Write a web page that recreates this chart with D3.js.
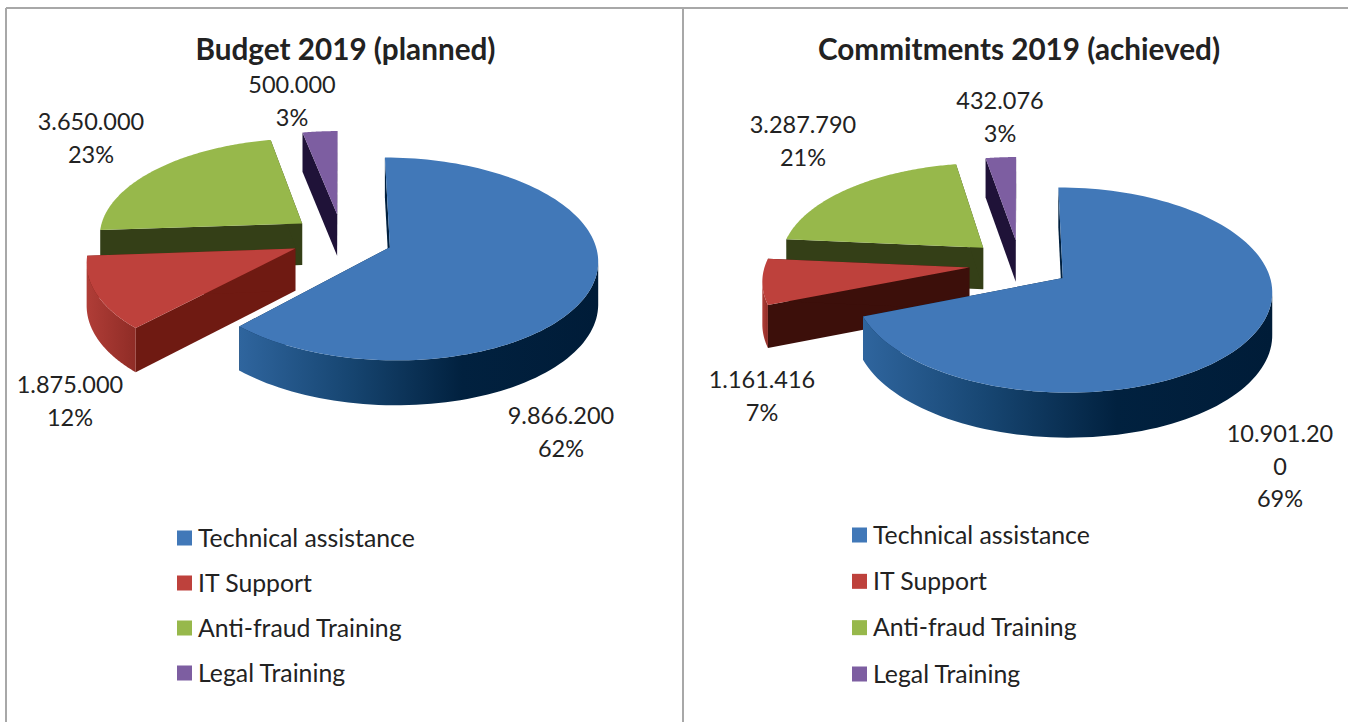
<!DOCTYPE html>
<html>
<head>
<meta charset="utf-8">
<script src="https://cdn.jsdelivr.net/npm/d3@7"></script>
<style>
  html, body { margin: 0; background: #fff; overflow: hidden; }
  svg { display: block; }
  text { font-family: Lato, "Open Sans", sans-serif; fill: #222; }
</style>
</head>
<body>
<svg id="chart" width="1348" height="722"></svg>
<script>
const categories = ["Technical assistance", "IT Support", "Anti-fraud Training", "Legal Training"];
const budgetValues = [9866200, 1875000, 3650000, 500000];
const commitmentValues = [10901200, 1161416, 3287790, 432076];

const topColors = ["#4178b8", "#be413c", "#97b84b", "#7d5ea1"];
const budgetWalls = ["#00203f", "#6f1a12", "#343f17", "#1f1238"];
const commitmentWalls = ["#00203f", "#3c0f0a", "#343f17", "#1f1238"];

// centre of the first label line for each slice
const budgetLabelX = [561, 70, 91, 292];
const budgetLabelY = [416, 385, 122, 85];
const commitmentLabelX = [1280, 762, 803, 1000];
const commitmentLabelY = [434, 380, 125, 101];

const radius = 204, tilt = 0.48, explode = 0.25, camera = 8.7, depth = 42;
const lineGap = 32.5, maxChars = 9;

const svg = d3.select("#chart");
const defs = svg.append("defs");
const numFormat = d3.formatLocale({ decimal: ",", thousands: ".", grouping: [3], currency: ["", ""] }).format(",d");
const pctFormat = d3.format(".0%");

// panel frame
const frame = [[6, 6, 8, 722], [6, 1348, 8, 8], [683, 683, 8, 722]];
svg.selectAll("line.frame").data(frame).enter().append("line")
    .attr("class", "frame")
    .attr("x1", d => d[0]).attr("x2", d => d[1])
    .attr("y1", d => d[2]).attr("y2", d => d[3])
    .attr("stroke", "#a8a8a8").attr("stroke-width", 2);

function drawPie(opt) {
    const g = svg.append("g");
    const total = d3.sum(opt.values);
    const pie = d3.pie().sort(null).startAngle(0).endAngle(2 * Math.PI);
    const slices = pie(opt.values);

    // ground plane (units of radius) -> screen, with a little perspective
    function project(x, y, z) {
        const s = camera / (camera - y);
        return [opt.cx + x * radius * s, opt.cy + y * radius * tilt * s + z * depth * Math.sqrt(s)];
    }
    const line = d3.line();

    // back slices first, blue last
    const order = [3, 2, 1, 0];
    order.forEach(i => {
        const s = slices[i];
        const mid = (s.startAngle + s.endAngle) / 2;
        const ox = Math.sin(mid) * explode, oy = -Math.cos(mid) * explode;
        const rim = a => [ox + Math.sin(a), oy - Math.cos(a)];
        const steps = d3.range(0, 121).map(k => s.startAngle + (s.endAngle - s.startAngle) * k / 120);
        const top = steps.map(a => project(rim(a)[0], rim(a)[1], 0));
        const low = steps.map(a => project(rim(a)[0], rim(a)[1], 1));
        const apexTop = project(ox, oy, 0), apexLow = project(ox, oy, 1);

        // radial walls
        [0, 120].forEach(k => {
            g.append("path")
                .attr("d", line([apexTop, top[k], low[k], apexLow]) + "Z")
                .attr("fill", opt.walls[i]);
        });

        // outer wall, only the part of the rim that faces the viewer
        const visible = d3.range(0, 121).filter(k =>
            (k < 120 && top[k + 1][0] < top[k][0]) || (k > 0 && top[k][0] < top[k - 1][0]));
        if (visible.length > 1) {
            const visTop = visible.map(k => top[k]);
            const visLow = visible.map(k => low[k]).reverse();
            const xs = visTop.map(p => p[0]);
            const gradId = opt.id + "-wall-" + i;
            const grad = defs.append("linearGradient").attr("id", gradId)
                .attr("gradientUnits", "userSpaceOnUse")
                .attr("x1", d3.min(xs)).attr("x2", d3.max(xs)).attr("y1", 0).attr("y2", 0);
            const stops = i === 0 ? [[0, "#2f659e"], [0.3, "#174672"], [0.62, "#01213f"], [1, "#001c38"]]
                : i === 1 ? [[0, "#b03d37"], [1, "#8f2c26"]]
                : [[0, opt.walls[i]], [1, opt.walls[i]]];
            grad.selectAll("stop").data(stops).enter().append("stop")
                .attr("offset", d => d[0]).attr("stop-color", d => d[1]);
            g.append("path")
                .attr("d", line(visTop.concat(visLow)) + "Z")
                .attr("fill", `url(#${gradId})`);
        }

        // top face
        g.append("path")
            .attr("d", line([apexTop].concat(top)) + "Z")
            .attr("fill", topColors[i]);
    });

    // data labels
    slices.forEach((s, i) => {
        const raw = numFormat(s.value);
        const lines = raw.length > maxChars ? [raw.slice(0, maxChars), raw.slice(maxChars)] : [raw];
        lines.push(pctFormat(s.value / total));
        g.selectAll(null).data(lines).enter().append("text")
            .attr("x", opt.labelX[i])
            .attr("y", (d, k) => opt.labelY[i] + k * lineGap)
            .attr("dy", "0.35em")
            .attr("text-anchor", "middle")
            .style("font-size", "23.5px")
            .text(d => d);
    });

    // title
    g.append("text")
        .attr("x", opt.titleX).attr("y", 60)
        .attr("text-anchor", "middle")
        .style("font-size", "29.7px").style("font-weight", 700)
        .text(opt.title);

    // legend
    const rows = d3.scalePoint().domain(categories).range(opt.legendRange);
    const items = g.selectAll("g.legend").data(categories).enter().append("g")
        .attr("class", "legend")
        .attr("transform", d => `translate(${opt.legendX},${rows(d)})`);
    items.append("rect")
        .attr("x", 0).attr("y", -7.5).attr("width", 15).attr("height", 15)
        .attr("fill", (d, i) => topColors[i]);
    items.append("text")
        .attr("x", 21).attr("dy", "0.35em")
        .style("font-size", "24.8px")
        .text(d => d);
}

drawPie({
    id: "budget", title: "Budget 2019 (planned)", values: budgetValues, walls: budgetWalls,
    cx: 342, cy: 238, titleX: 345.5,
    labelX: budgetLabelX, labelY: budgetLabelY,
    legendX: 177, legendRange: [538, 673]
});
drawPie({
    id: "commit", title: "Commitments 2019 (achieved)", values: commitmentValues, walls: commitmentWalls,
    cx: 1020, cy: 264, titleX: 1019,
    labelX: commitmentLabelX, labelY: commitmentLabelY,
    legendX: 852, legendRange: [535, 674]
});
</script>
</body>
</html>
